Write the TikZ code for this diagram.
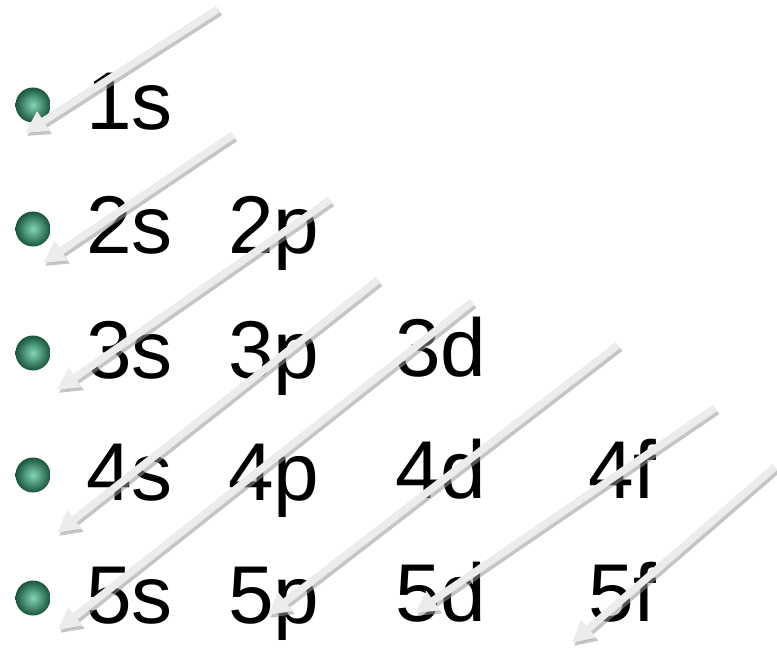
\documentclass[tikz,border=0pt]{standalone}
\usepackage{fontspec}
\setmainfont{Liberation Sans}
\usetikzlibrary{arrows.meta}
\definecolor{bulletin}{RGB}{130,215,180}
\definecolor{bulletout}{RGB}{25,85,60}
\definecolor{arrowgray}{RGB}{236,236,236}
\definecolor{shadowgray}{RGB}{150,150,150}
\begin{document}
\begin{tikzpicture}[x=1pt,y=-1pt,
  lbl/.style={anchor=base west, inner sep=0pt, font=\fontsize{82}{96}\selectfont},
  blt/.style={circle, inner sep=0pt, minimum size=35pt, shading=radial, inner color=bulletin, outer color=bulletout},
  arr/.style={line width=7.5pt, draw=arrowgray, -{Triangle[length=22pt,width=22pt]}},
  arrshadow/.style={line width=7.5pt, draw=shadowgray, opacity=0.55, -{Triangle[length=22pt,width=22pt]}},
]
\fill[white] (0,0) rectangle (777,650);
\useasboundingbox (0,0) rectangle (777,650);

% bullets
\foreach \i/\yy in {1/105,2/229,3/353,4/475,5/598}
  \node[blt] (b\i) at (33,\yy) {};

% labels
\node[lbl] (t1s) at (86,130) {1s};
\node[lbl] (t2s) at (86,253) {2s};
\node[lbl] (t2p) at (228,253) {2p};
\node[lbl] (t3s) at (86,378) {3s};
\node[lbl] (t3p) at (228,378) {3p};
\node[lbl] (t3d) at (395,376) {3d};
\node[lbl] (t4s) at (86,500) {4s};
\node[lbl] (t4p) at (228,500) {4p};
\node[lbl] (t4d) at (395,498) {4d};
\node[lbl] (t4f) at (588,498) {4f};
\node[lbl] (t5s) at (86,623) {5s};
\node[lbl] (t5p) at (228,623) {5p};
\node[lbl] (t5d) at (395,621) {5d};
\node[lbl] (t5f) at (588,621) {5f};

% arrow end points
\coordinate (a1s) at (218,9);   \coordinate (a1e) at (25,133);
\coordinate (a2s) at (233,135); \coordinate (a2e) at (43,263);
\coordinate (a3s) at (330,200); \coordinate (a3e) at (57,390);
\coordinate (a4s) at (378,280); \coordinate (a4e) at (57,533);
\coordinate (a5s) at (472,302); \coordinate (a5e) at (58,630);
\coordinate (a6s) at (618,345); \coordinate (a6e) at (268,615);
\coordinate (a7s) at (715,408); \coordinate (a7e) at (415,613);
\coordinate (a8s) at (775,467); \coordinate (a8e) at (572,643);

\foreach \k in {1,...,8}{
  \draw[arrshadow, transform canvas={shift={(2pt,-3pt)}}] (a\k s) -- (a\k e);
  \draw[arr] (a\k s) -- (a\k e);
}
\end{tikzpicture}
\end{document}
